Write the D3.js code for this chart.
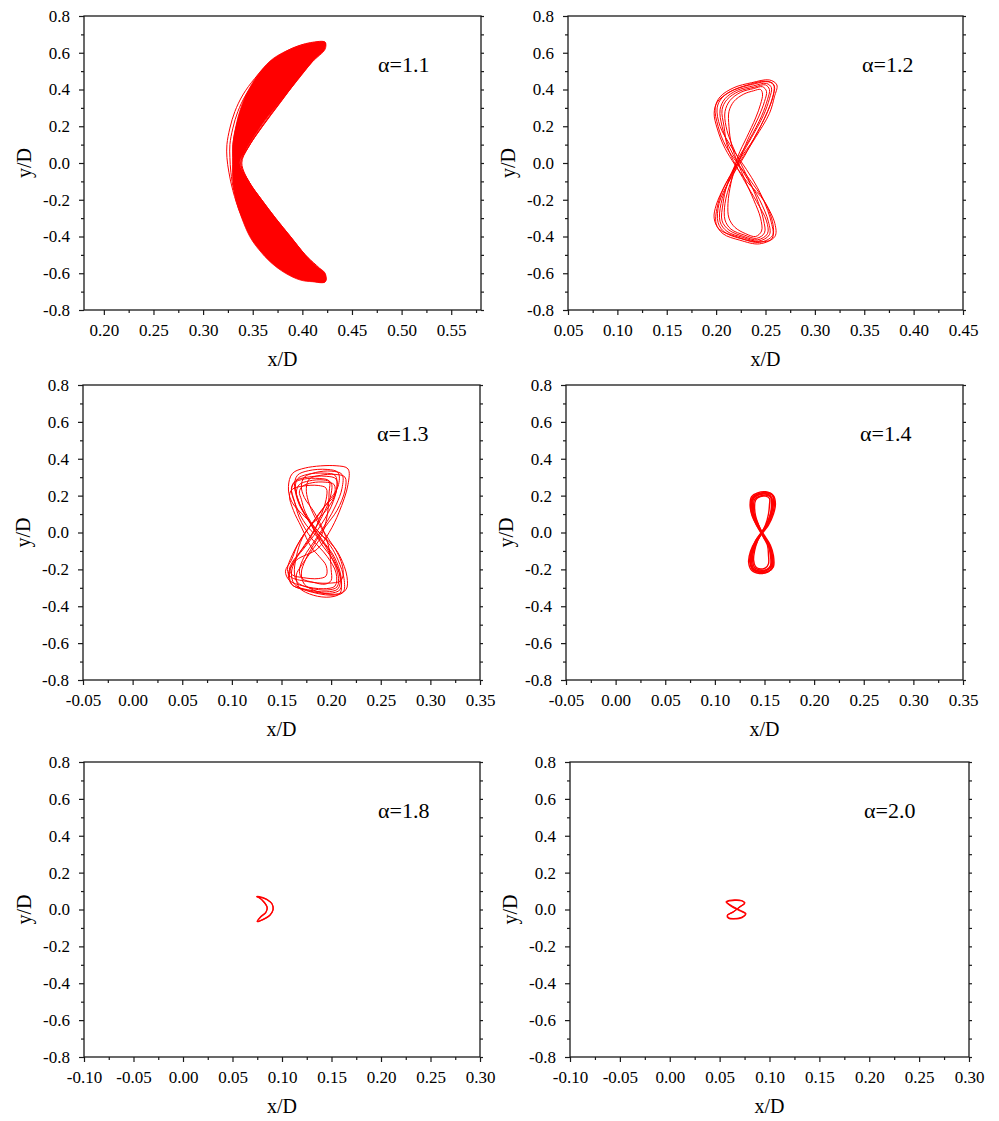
<!DOCTYPE html>
<html>
<head>
<meta charset="utf-8">
<script src="https://cdn.jsdelivr.net/npm/d3@7"></script>
<style>
  html, body { margin: 0; padding: 0; background: #fff; }
  svg text { font-family: "Liberation Serif", "Times New Roman", serif; fill: #000; }
</style>
</head>
<body>
<svg id="chart" width="999" height="1121"></svg>
<script>
// ---- data -------------------------------------------------------------
const alphaLabels = ["α=1.1", "α=1.2", "α=1.3", "α=1.4", "α=1.8", "α=2.0"];
const xTitle = "x/D";
const yTitle = "y/D";

const xDomains = [[0.18, 0.58], [0.05, 0.45], [-0.05, 0.35], [-0.05, 0.35], [-0.10, 0.30], [-0.10, 0.30]];
const xMajorTicks = [
  [0.20, 0.25, 0.30, 0.35, 0.40, 0.45, 0.50, 0.55],
  [0.05, 0.10, 0.15, 0.20, 0.25, 0.30, 0.35, 0.40, 0.45],
  [-0.05, 0.00, 0.05, 0.10, 0.15, 0.20, 0.25, 0.30, 0.35],
  [-0.05, 0.00, 0.05, 0.10, 0.15, 0.20, 0.25, 0.30, 0.35],
  [-0.10, -0.05, 0.00, 0.05, 0.10, 0.15, 0.20, 0.25, 0.30],
  [-0.10, -0.05, 0.00, 0.05, 0.10, 0.15, 0.20, 0.25, 0.30]
];
const xMinorTicks = [
  [0.225, 0.275, 0.325, 0.375, 0.425, 0.475, 0.525, 0.575],
  [0.075, 0.125, 0.175, 0.225, 0.275, 0.325, 0.375, 0.425],
  [-0.025, 0.025, 0.075, 0.125, 0.175, 0.225, 0.275, 0.325],
  [-0.025, 0.025, 0.075, 0.125, 0.175, 0.225, 0.275, 0.325],
  [-0.075, -0.025, 0.025, 0.075, 0.125, 0.175, 0.225, 0.275],
  [-0.075, -0.025, 0.025, 0.075, 0.125, 0.175, 0.225, 0.275]
];
const yDomain = [-0.8, 0.8];
const yMajorTicks = [-0.8, -0.6, -0.4, -0.2, 0.0, 0.2, 0.4, 0.6, 0.8];
const yMinorTicks = [-0.7, -0.5, -0.3, -0.1, 0.1, 0.3, 0.5, 0.7];

// alpha = 1.1 : densely wound crescent (core band + outer strands)
const band11 = [
  [0.423,-0.647],[0.410,-0.646],[0.398,-0.637],[0.383,-0.60],[0.368,-0.54],[0.356,-0.47],
  [0.347,-0.40],[0.339,-0.30],[0.333,-0.20],[0.330,-0.10],[0.330,0.0],[0.330,0.10],
  [0.333,0.20],[0.338,0.30],[0.346,0.40],[0.358,0.50],[0.371,0.57],[0.389,0.622],
  [0.403,0.647],[0.414,0.657],[0.423,0.657],[0.423,0.62],[0.410,0.55],[0.395,0.45],
  [0.380,0.35],[0.365,0.25],[0.352,0.15],[0.343,0.07],[0.337,0.0],[0.346,-0.10],
  [0.359,-0.20],[0.373,-0.30],[0.388,-0.40],[0.403,-0.50],[0.414,-0.56],[0.423,-0.60]
];
const orbit11 = [
  [[0.423,-0.645],[0.405,-0.635],[0.386,-0.585],[0.366,-0.50],[0.350,-0.40],[0.338,-0.28],
   [0.330,-0.15],[0.326,-0.05],[0.324,0.03],[0.324,0.10],[0.327,0.19],[0.332,0.28],
   [0.340,0.37],[0.352,0.46],[0.368,0.55],[0.388,0.62],[0.408,0.655],[0.423,0.657],
   [0.416,0.60],[0.398,0.48],[0.380,0.35],[0.362,0.22],[0.347,0.10],[0.338,0.0],
   [0.346,-0.10],[0.359,-0.20],[0.373,-0.30],[0.388,-0.40],[0.403,-0.50],[0.423,-0.61]],
  [[0.423,-0.642],[0.406,-0.632],[0.387,-0.58],[0.367,-0.495],[0.351,-0.395],[0.339,-0.275],
   [0.331,-0.15],[0.328,-0.05],[0.327,0.03],[0.327,0.10],[0.330,0.19],[0.335,0.28],
   [0.343,0.37],[0.355,0.46],[0.371,0.55],[0.390,0.615],[0.409,0.65],[0.423,0.652],
   [0.415,0.59],[0.397,0.47],[0.379,0.34],[0.361,0.21],[0.346,0.09],[0.338,0.0],
   [0.347,-0.11],[0.360,-0.21],[0.374,-0.31],[0.389,-0.41],[0.404,-0.51],[0.423,-0.62]],
  [[0.423,-0.64],[0.407,-0.63],[0.388,-0.575],[0.368,-0.49],[0.352,-0.39],[0.340,-0.27],
   [0.332,-0.15],[0.330,-0.05],[0.330,0.03],[0.330,0.10],[0.333,0.19],[0.338,0.28],
   [0.346,0.37],[0.358,0.46],[0.373,0.55],[0.392,0.615],[0.410,0.648],[0.423,0.65],
   [0.414,0.58],[0.396,0.46],[0.378,0.33],[0.360,0.20],[0.345,0.08],[0.339,0.0],
   [0.348,-0.12],[0.361,-0.22],[0.375,-0.32],[0.390,-0.42],[0.405,-0.52],[0.423,-0.63]]
];

// alpha = 1.2 : figure-eight cycles
const orbit12 = [
  [[0.210,0.09],[0.202,0.20],[0.199,0.30],[0.204,0.36],[0.218,0.41],[0.236,0.437],[0.254,0.452],
   [0.2615,0.425],[0.259,0.36],[0.254,0.27],[0.240,0.14],[0.2275,0.035],[0.210,-0.11],[0.202,-0.22],
   [0.200,-0.33],[0.207,-0.385],[0.224,-0.42],[0.244,-0.44],[0.2595,-0.40],[0.2595,-0.33],[0.248,-0.20],[0.234,-0.09]],
  [[0.214,0.10],[0.204,0.20],[0.201,0.30],[0.206,0.355],[0.219,0.40],[0.237,0.428],[0.253,0.442],
   [0.259,0.418],[0.257,0.355],[0.251,0.265],[0.239,0.14],[0.229,0.04],[0.213,-0.10],[0.203,-0.22],
   [0.202,-0.325],[0.209,-0.378],[0.226,-0.413],[0.244,-0.432],[0.257,-0.395],[0.256,-0.325],[0.247,-0.19],[0.236,-0.08]],
  [[0.213,0.09],[0.206,0.20],[0.204,0.29],[0.209,0.35],[0.221,0.395],[0.238,0.42],[0.251,0.433],
   [0.256,0.41],[0.254,0.35],[0.248,0.26],[0.236,0.14],[0.225,0.035],[0.212,-0.11],[0.205,-0.22],
   [0.204,-0.32],[0.211,-0.372],[0.227,-0.405],[0.243,-0.425],[0.254,-0.39],[0.253,-0.32],[0.244,-0.20],[0.232,-0.09]],
  [[0.212,0.08],[0.208,0.20],[0.206,0.29],[0.211,0.345],[0.223,0.39],[0.239,0.413],[0.250,0.425],
   [0.254,0.40],[0.252,0.345],[0.246,0.255],[0.234,0.13],[0.222,0.02],[0.211,-0.12],[0.207,-0.22],
   [0.206,-0.315],[0.213,-0.365],[0.228,-0.40],[0.242,-0.418],[0.252,-0.385],[0.251,-0.315],[0.241,-0.21],[0.229,-0.10]],
  [[0.216,0.10],[0.210,0.20],[0.209,0.28],[0.214,0.34],[0.225,0.385],[0.238,0.405],[0.247,0.415],
   [0.251,0.39],[0.249,0.335],[0.243,0.25],[0.234,0.15],[0.226,0.05],[0.215,-0.10],[0.209,-0.22],
   [0.209,-0.31],[0.215,-0.36],[0.229,-0.393],[0.241,-0.41],[0.249,-0.38],[0.248,-0.31],[0.241,-0.19],[0.232,-0.08]],
  [[0.216,0.09],[0.213,0.20],[0.213,0.28],[0.218,0.335],[0.228,0.375],[0.238,0.393],[0.245,0.40],
   [0.247,0.375],[0.245,0.32],[0.240,0.245],[0.231,0.14],[0.222,0.035],[0.215,-0.11],[0.212,-0.22],
   [0.213,-0.30],[0.219,-0.35],[0.230,-0.385],[0.240,-0.40],[0.246,-0.37],[0.245,-0.30],[0.238,-0.20],[0.229,-0.09]],
  [[0.209,0.08],[0.201,0.19],[0.198,0.27],[0.201,0.33],[0.213,0.385],[0.232,0.425],[0.250,0.445],
   [0.258,0.43],[0.258,0.37],[0.252,0.28],[0.238,0.13],[0.224,0.02],[0.209,-0.12],[0.200,-0.23],
   [0.198,-0.30],[0.203,-0.36],[0.220,-0.40],[0.240,-0.428],[0.256,-0.415],[0.258,-0.35],[0.249,-0.21],[0.231,-0.10]]
];

// alpha = 1.3 : drifting figure-eight cycles
const orbit13 = [
  [[0.178,0.06],[0.160,0.17],[0.157,0.25],[0.161,0.32],[0.174,0.35],[0.205,0.362],[0.217,0.345],[0.217,0.26],
   [0.208,0.11],[0.198,0.0],[0.186,-0.09],[0.165,-0.15],[0.157,-0.22],[0.160,-0.28],[0.175,-0.315],[0.200,-0.34],
   [0.212,-0.325],[0.213,-0.25],[0.207,-0.15],[0.199,-0.07]],
  [[0.168,0.08],[0.163,0.17],[0.160,0.24],[0.164,0.28],[0.176,0.30],[0.195,0.305],[0.205,0.29],[0.205,0.22],
   [0.195,0.12],[0.178,0.03],[0.166,-0.07],[0.160,-0.15],[0.154,-0.21],[0.158,-0.26],[0.172,-0.29],[0.192,-0.305],
   [0.204,-0.29],[0.205,-0.22],[0.196,-0.13],[0.180,-0.03]],
  [[0.176,0.08],[0.168,0.16],[0.165,0.22],[0.168,0.26],[0.178,0.28],[0.192,0.285],[0.200,0.27],[0.200,0.21],
   [0.194,0.12],[0.185,0.03],[0.173,-0.07],[0.164,-0.15],[0.160,-0.22],[0.163,-0.28],[0.177,-0.315],[0.198,-0.33],
   [0.209,-0.31],[0.210,-0.24],[0.203,-0.13],[0.191,-0.04]],
  [[0.183,0.11],[0.173,0.19],[0.170,0.25],[0.173,0.30],[0.184,0.325],[0.200,0.333],[0.211,0.315],[0.211,0.24],
   [0.205,0.15],[0.196,0.06],[0.184,-0.04],[0.173,-0.13],[0.168,-0.21],[0.171,-0.25],[0.182,-0.27],[0.194,-0.28],
   [0.200,-0.26],[0.200,-0.20],[0.198,-0.09],[0.193,0.0]],
  [[0.170,0.03],[0.162,0.12],[0.158,0.20],[0.161,0.235],[0.172,0.252],[0.187,0.255],[0.195,0.24],[0.195,0.18],
   [0.188,0.07],[0.179,-0.03],[0.168,-0.11],[0.161,-0.16],[0.158,-0.20],[0.161,-0.23],[0.172,-0.245],[0.187,-0.25],
   [0.195,-0.235],[0.195,-0.18],[0.188,-0.13],[0.180,-0.08]],
  [[0.184,0.08],[0.177,0.17],[0.175,0.24],[0.178,0.29],[0.189,0.31],[0.204,0.315],[0.214,0.30],[0.214,0.23],
   [0.206,0.12],[0.194,0.03],[0.182,-0.07],[0.174,-0.15],[0.170,-0.22],[0.173,-0.28],[0.186,-0.32],[0.204,-0.335],
   [0.215,-0.31],[0.216,-0.24],[0.209,-0.13],[0.198,-0.04]],
  [[0.171,0.12],[0.166,0.19],[0.163,0.25],[0.166,0.31],[0.177,0.335],[0.196,0.342],[0.207,0.325],[0.207,0.25],
   [0.196,0.16],[0.184,0.07],[0.171,-0.03],[0.165,-0.13],[0.163,-0.22],[0.166,-0.27],[0.178,-0.30],[0.196,-0.312],
   [0.206,-0.295],[0.207,-0.23],[0.197,-0.10],[0.185,0.0]],
  [[0.174,0.11],[0.170,0.18],[0.168,0.22],[0.171,0.25],[0.181,0.27],[0.194,0.273],[0.203,0.26],[0.203,0.20],
   [0.193,0.14],[0.182,0.06],[0.169,-0.04],[0.161,-0.12],[0.156,-0.20],[0.159,-0.24],[0.175,-0.265],[0.197,-0.275],
   [0.210,-0.26],[0.212,-0.20],[0.203,-0.08],[0.186,0.01]],
  [[0.175,0.04],[0.165,0.14],[0.160,0.23],[0.163,0.27],[0.173,0.29],[0.188,0.293],[0.198,0.28],[0.198,0.22],
   [0.196,0.09],[0.190,-0.02],[0.179,-0.11],[0.170,-0.18],[0.165,-0.23],[0.168,-0.30],[0.182,-0.34],[0.199,-0.35],
   [0.209,-0.33],[0.210,-0.26],[0.205,-0.17],[0.196,-0.08]],
  [[0.178,0.06],[0.168,0.15],[0.164,0.23],[0.166,0.29],[0.176,0.315],[0.193,0.322],[0.204,0.31],[0.206,0.25],
   [0.200,0.14],[0.186,0.01],[0.172,-0.09],[0.162,-0.16],[0.158,-0.23],[0.161,-0.285],[0.176,-0.31],[0.195,-0.322],
   [0.207,-0.305],[0.209,-0.24],[0.202,-0.15],[0.190,-0.06]]
];

// alpha = 1.4 : compact figure-eight
const orbit14 = [
  [[0.142,0.04],[0.1375,0.09],[0.1355,0.15],[0.137,0.195],[0.143,0.215],[0.151,0.221],[0.158,0.205],[0.160,0.16],
   [0.158,0.10],[0.153,0.04],[0.141,-0.045],[0.136,-0.10],[0.134,-0.16],[0.137,-0.205],[0.145,-0.222],[0.153,-0.215],
   [0.158,-0.19],[0.158,-0.13],[0.155,-0.07],[0.150,-0.025]],
  [[0.143,0.04],[0.139,0.09],[0.138,0.145],[0.139,0.185],[0.144,0.203],[0.151,0.208],[0.156,0.195],[0.157,0.155],
   [0.156,0.10],[0.152,0.04],[0.142,-0.045],[0.138,-0.10],[0.137,-0.155],[0.139,-0.195],[0.146,-0.21],[0.152,-0.203],
   [0.156,-0.18],[0.156,-0.125],[0.154,-0.07],[0.150,-0.025]],
  [[0.144,0.04],[0.141,0.09],[0.140,0.14],[0.141,0.175],[0.145,0.193],[0.151,0.197],[0.155,0.185],[0.155,0.15],
   [0.154,0.10],[0.151,0.04],[0.143,-0.045],[0.140,-0.10],[0.139,-0.15],[0.141,-0.185],[0.146,-0.198],[0.151,-0.192],
   [0.154,-0.17],[0.154,-0.12],[0.153,-0.07],[0.149,-0.025]],
  [[0.143,0.04],[0.139,0.09],[0.137,0.15],[0.139,0.19],[0.145,0.21],[0.153,0.214],[0.159,0.20],[0.161,0.155],
   [0.159,0.10],[0.154,0.04],[0.142,-0.045],[0.137,-0.10],[0.136,-0.16],[0.138,-0.20],[0.146,-0.215],[0.154,-0.21],
   [0.159,-0.185],[0.159,-0.125],[0.156,-0.07],[0.151,-0.025]],
  [[0.142,0.04],[0.138,0.09],[0.136,0.15],[0.138,0.19],[0.143,0.207],[0.150,0.212],[0.156,0.20],[0.158,0.16],
   [0.157,0.10],[0.152,0.04],[0.141,-0.045],[0.137,-0.10],[0.135,-0.155],[0.138,-0.195],[0.145,-0.212],[0.152,-0.207],
   [0.157,-0.185],[0.157,-0.13],[0.154,-0.07],[0.149,-0.025]],
  [[0.144,0.04],[0.140,0.09],[0.139,0.145],[0.140,0.18],[0.146,0.198],[0.152,0.202],[0.157,0.19],[0.158,0.15],
   [0.156,0.10],[0.152,0.04],[0.143,-0.045],[0.139,-0.10],[0.138,-0.15],[0.140,-0.19],[0.147,-0.205],[0.153,-0.198],
   [0.157,-0.175],[0.157,-0.12],[0.155,-0.07],[0.150,-0.025]],
  [[0.143,0.05],[0.139,0.10],[0.137,0.155],[0.138,0.19],[0.144,0.211],[0.152,0.217],[0.158,0.202],[0.159,0.158],
   [0.157,0.105],[0.151,0.035],[0.142,-0.05],[0.138,-0.105],[0.136,-0.16],[0.138,-0.20],[0.146,-0.218],[0.154,-0.212],
   [0.158,-0.188],[0.158,-0.128],[0.155,-0.065],[0.149,-0.02]]
];

// alpha = 1.8 : small crescent
const orbit18 = [
  [[0.0744,0.070],[0.0800,0.066],[0.0850,0.054],[0.0896,0.034],[0.0912,0.002],[0.0880,-0.030],[0.0815,-0.052],
   [0.0752,-0.066],[0.0778,-0.045],[0.0835,-0.018],[0.0852,0.008],[0.0815,0.042],[0.0760,0.066]],
  [[0.0750,0.068],[0.0805,0.063],[0.0858,0.050],[0.0900,0.030],[0.0908,-0.002],[0.0875,-0.033],[0.0808,-0.055],
   [0.0748,-0.064],[0.0782,-0.040],[0.0840,-0.012],[0.0848,0.014],[0.0808,0.046],[0.0755,0.069]]
];

// alpha = 2.0 : small flattened figure-eight
const orbit20 = [
  [[0.0564,0.042],[0.0600,0.050],[0.0650,0.052],[0.0720,0.049],[0.0754,0.036],[0.0710,0.018],[0.0640,-0.012],
   [0.0580,-0.030],[0.0590,-0.045],[0.0640,-0.049],[0.0720,-0.042],[0.0764,-0.022],[0.0720,-0.008],[0.0620,0.020]],
  [[0.0570,0.040],[0.0605,0.047],[0.0655,0.049],[0.0725,0.046],[0.0750,0.033],[0.0705,0.015],[0.0635,-0.014],
   [0.0575,-0.033],[0.0588,-0.047],[0.0645,-0.051],[0.0725,-0.044],[0.0760,-0.025],[0.0715,-0.010],[0.0615,0.018]]
];

const orbits = [orbit11, orbit12, orbit13, orbit14, orbit18, orbit20];
const bands = [band11, null, null, null, null, null];

// ---- layout -------------------------------------------------------------
const frames = [
  { x0: 84,  x1: 481, y0: 16,  y1: 310 },
  { x0: 568, x1: 963, y0: 16,  y1: 310 },
  { x0: 83,  x1: 480, y0: 385, y1: 680 },
  { x0: 566, x1: 963, y0: 385, y1: 680 },
  { x0: 84,  x1: 480, y0: 762, y1: 1057 },
  { x0: 570, x1: 969, y0: 762, y1: 1057 }
];
const orbitWidth = [1, 1, 1, 1.4, 1.2, 1.2];
const RED = "#ff0000";
const AXIS = "#1a1a1a";

const svg = d3.select("#chart");

frames.forEach((f, i) => {
  const x = d3.scaleLinear().domain(xDomains[i]).range([f.x0, f.x1]);
  const y = d3.scaleLinear().domain(yDomain).range([f.y1, f.y0]);
  const g = svg.append("g");

  // trajectories
  const path = d3.line().x(d => x(d[0])).y(d => y(d[1])).curve(d3.curveCatmullRomClosed.alpha(0.5));
  if (bands[i]) {
    g.append("path").attr("d", path(bands[i])).attr("fill", RED).attr("stroke", RED).attr("stroke-width", 0.8);
  }
  g.selectAll("path.orbit").data(orbits[i]).join("path")
    .attr("class", "orbit")
    .attr("d", d => path(d))
    .attr("fill", "none")
    .attr("stroke", RED)
    .attr("stroke-width", orbitWidth[i])
    .attr("stroke-linejoin", "round");

  // axes
  const fmtX = d3.format(".2f"), fmtY = d3.format(".1f");
  const styleAxis = sel => {
    sel.select(".domain").remove();
    sel.selectAll("line").attr("stroke", AXIS).attr("stroke-width", 1.2);
    sel.selectAll("text").attr("font-size", 17).attr("fill", "#000")
      .style("font-family", '"Liberation Serif", "Times New Roman", serif');
  };
  g.append("g").attr("transform", `translate(0,${f.y1})`)
    .call(d3.axisBottom(x).tickValues(xMajorTicks[i]).tickSize(5).tickPadding(9)
      .tickFormat(d => fmtX(d).replace("−", "-")))
    .call(styleAxis);
  g.append("g").attr("transform", `translate(0,${f.y1})`)
    .call(d3.axisBottom(x).tickValues(xMinorTicks[i]).tickSize(3).tickFormat(""))
    .call(styleAxis);
  g.append("g").attr("transform", `translate(${f.x0},0)`)
    .call(d3.axisLeft(y).tickValues(yMajorTicks).tickSize(5).tickPadding(9)
      .tickFormat(d => fmtY(d).replace("−", "-")))
    .call(styleAxis);
  g.append("g").attr("transform", `translate(${f.x0},0)`)
    .call(d3.axisLeft(y).tickValues(yMinorTicks).tickSize(3).tickFormat(""))
    .call(styleAxis);
  g.append("g").attr("transform", `translate(${f.x1},0)`)
    .call(d3.axisRight(y).tickValues(yMajorTicks.concat(yMinorTicks)).tickSize(3).tickFormat(""))
    .call(styleAxis);

  // frame
  g.append("rect")
    .attr("x", f.x0).attr("y", f.y0)
    .attr("width", f.x1 - f.x0).attr("height", f.y1 - f.y0)
    .attr("fill", "none").attr("stroke", AXIS).attr("stroke-width", 1.3);

  // titles
  g.append("text")
    .attr("x", (f.x0 + f.x1) / 2).attr("y", f.y1 + 56)
    .attr("text-anchor", "middle").attr("font-size", 20)
    .text(xTitle);
  g.append("text")
    .attr("transform", `translate(${f.x0 - 53},${(f.y0 + f.y1) / 2}) rotate(-90)`)
    .attr("text-anchor", "middle").attr("font-size", 20)
    .text(yTitle);
  g.append("text")
    .attr("x", f.x0 + 294).attr("y", f.y0 + 56)
    .attr("font-size", 22)
    .text(alphaLabels[i]);
});
</script>
</body>
</html>
